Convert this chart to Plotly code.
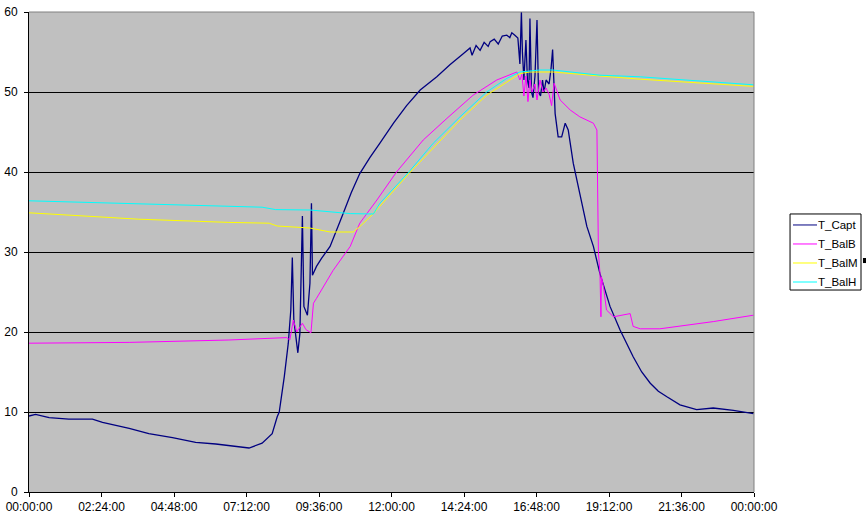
import pandas as pd
import plotly.graph_objects as go

# Time in minutes after midnight, values in °C
capt_min = [0, 13, 40, 79, 126, 146, 199, 238, 285, 331, 371, 411, 437, 463, 483, 493, 497,
            507, 515, 520, 523, 526, 534, 538, 543, 546, 553, 558, 561, 563, 571, 581, 598,
            624, 640, 657, 677, 697, 724, 750, 777, 810, 836, 863, 876, 880, 888, 896, 904, 912, 916, 924, 932,
            940, 949, 955, 959, 965, 971, 975, 978, 980, 983, 987, 990, 993, 995, 998, 1001,
            1005, 1009, 1012, 1016, 1020, 1023, 1027, 1033, 1037, 1040, 1045, 1051, 1058,
            1065, 1071, 1081, 1094, 1108, 1121, 1134, 1154, 1174, 1200, 1217, 1234, 1250, 1267, 1293,
            1326, 1359, 1399, 1439]
capt_val = [9.5, 9.7, 9.3, 9.1, 9.1, 8.7, 7.95, 7.3, 6.8, 6.2, 6.0, 5.7, 5.5, 6.1, 7.3, 9.4, 10.0,
            14.4, 18.6, 22.75, 29.3, 21.5, 17.4, 19.8, 34.5, 23.2, 22.1, 26.1, 36.1, 27.1, 28.2, 29.2, 30.7,
            34.8, 37.4, 39.8, 41.8, 43.6, 46.1, 48.3, 50.25, 51.9, 53.4, 54.8, 55.5, 54.6, 55.8, 55.2, 56.2, 55.7, 56.3, 56.6, 56.0,
            57.0, 57.1, 56.8, 57.4, 57.1, 56.75, 53.5, 60.0, 55.0, 51.5, 56.5, 51.5, 50.5, 59.2, 50.0, 49.3,
            52.0, 59.0, 50.0, 49.5, 51.5, 50.0, 51.5, 51.0, 53.0, 55.3, 47.3, 44.4, 44.4,
            46.1, 45.25, 41.1, 37.3, 33.2, 30.7, 27.3, 23.2, 20.25, 16.9, 15.0, 13.6, 12.6, 11.9, 10.9,
            10.3, 10.5, 10.2, 9.8]

balb_min = [0, 199, 397, 490, 512, 518, 525, 532, 543, 550, 560, 565, 571, 604, 638, 657, 691,
            730, 783, 830, 882, 929, 969, 975, 979, 983, 987, 991, 995, 999, 1005, 1009, 1015,
            1021, 1027, 1033, 1038, 1043, 1055, 1075, 1094, 1121, 1128, 1131, 1134, 1136, 1137,
            1141, 1147, 1161, 1194, 1200, 1214, 1253, 1293, 1359, 1439]
balb_val = [18.6, 18.7, 19.0, 19.2, 19.3, 19.0, 21.5, 20.0, 21.1, 20.3, 19.9, 23.6, 24.2, 27.7, 30.7, 33.6, 36.5,
            40.0, 44.0, 46.7, 49.6, 51.5, 52.5, 51.5, 52.2, 49.5, 52.0, 48.8, 51.5, 50.0, 51.0, 49.0, 51.5,
            50.0, 50.5, 49.7, 48.3, 51.1, 49.0, 47.75, 46.9, 46.1, 45.25, 29.9, 27.4, 21.9, 26.9,
            25.7, 22.75, 21.9, 22.3, 20.7, 20.4, 20.4, 20.75, 21.3, 22.1]

balm_min = [0, 132, 218, 397, 477, 493, 558, 598, 644, 661, 684, 753, 803, 856, 909, 949, 975,
            995, 1041, 1134, 1214, 1439]
balm_val = [34.9, 34.4, 34.1, 33.7, 33.6, 33.25, 33.0, 32.5, 32.5, 33.4, 34.8, 39.7, 43.0, 46.5, 49.6, 51.3, 52.3,
            52.5, 52.5, 52.0, 51.6, 50.7]

balh_min = [0, 232, 439, 463, 490, 558, 638, 684, 697, 753, 803, 856, 909, 949, 975, 1015, 1040,
            1134, 1214, 1439]
balh_val = [36.4, 36.0, 35.7, 35.6, 35.3, 35.25, 34.8, 34.75, 36.1, 39.9, 43.6, 46.9, 50.0, 51.7, 52.5, 52.75, 52.75,
            52.1, 51.9, 50.9]

y_ticks = [0, 10, 20, 30, 40, 50, 60]

base = pd.Timestamp("2000-01-01 00:00:00")


def tx(mins):
    return [base + pd.Timedelta(minutes=m) for m in mins]


font = "Liberation Sans, Arial, sans-serif"
fig = go.Figure()
series = [
    ("T_Capt", capt_min, capt_val, "#000080", 1.3),
    ("T_BalB", balb_min, balb_val, "#FF00FF", 1.0),
    ("T_BalM", balm_min, balm_val, "#FFFF00", 1.0),
    ("T_BalH", balh_min, balh_val, "#00FFFF", 1.0),
]
for name, m, v, c, w in series:
    fig.add_trace(go.Scatter(x=tx(m), y=v, name=name, mode="lines",
                             line=dict(color=c, width=w), showlegend=False))

fig.update_layout(
    width=868, height=523,
    margin=dict(l=29, r=114, t=12, b=31, autoexpand=False),
    paper_bgcolor="white", plot_bgcolor="#C0C0C0",
    font=dict(family=font, size=12, color="black"),
    showlegend=False,
    xaxis=dict(type="date", range=[base, base + pd.Timedelta(days=1)],
               tick0=base, dtick=8640000, tickformat="%H:%M:%S",
               showgrid=False, showline=True, linecolor="black", linewidth=1,
               ticks="outside", ticklen=4, tickcolor="black", zeroline=False,
               automargin=False),
    yaxis=dict(range=[0, 60], tickvals=y_ticks, showgrid=True, gridcolor="black", gridwidth=1,
               showline=True, linecolor="black", linewidth=1, ticks="outside", ticklen=4,
               tickcolor="black", zeroline=False, ticklabelstandoff=4, automargin=False),
)
# gray top and right plot-area border
fig.add_shape(type="line", xref="paper", yref="paper", x0=0, x1=1, y0=1, y1=1,
              line=dict(color="#808080", width=1), layer="above")
fig.add_shape(type="line", xref="paper", yref="paper", x0=1, x1=1, y0=0, y1=1,
              line=dict(color="#808080", width=1), layer="above")

# Excel-style legend box
fig.add_shape(type="rect", xref="paper", yref="paper", x0=1.0497, x1=1.1476, y0=0.4208, y1=0.5792,
              line=dict(color="black", width=1), fillcolor="white", layer="above")
row_top, row_step = 0.5563, 0.0396
for i, (name, _m, _v, c, w) in enumerate(series):
    yy = row_top - i * row_step
    fig.add_shape(type="line", xref="paper", yref="paper", x0=1.0538, x1=1.0869, y0=yy, y1=yy,
                  line=dict(color=c, width=1), layer="above")
    fig.add_annotation(xref="paper", yref="paper", x=1.0878, y=yy, text=name, showarrow=False,
                       xanchor="left", yanchor="middle", font=dict(size=11.5, color="black"),
                       borderpad=0, borderwidth=0)
# small black mark next to the legend
fig.add_shape(type="rect", xref="paper", yref="paper", x0=1.1503, x1=1.1545, y0=0.477, y1=0.4875,
              line=dict(width=0), fillcolor="black", layer="above")

fig.write_html("out.html", config={"displayModeBar": False},
               post_script="document.body.style.margin='0';document.body.style.overflow='hidden';")
